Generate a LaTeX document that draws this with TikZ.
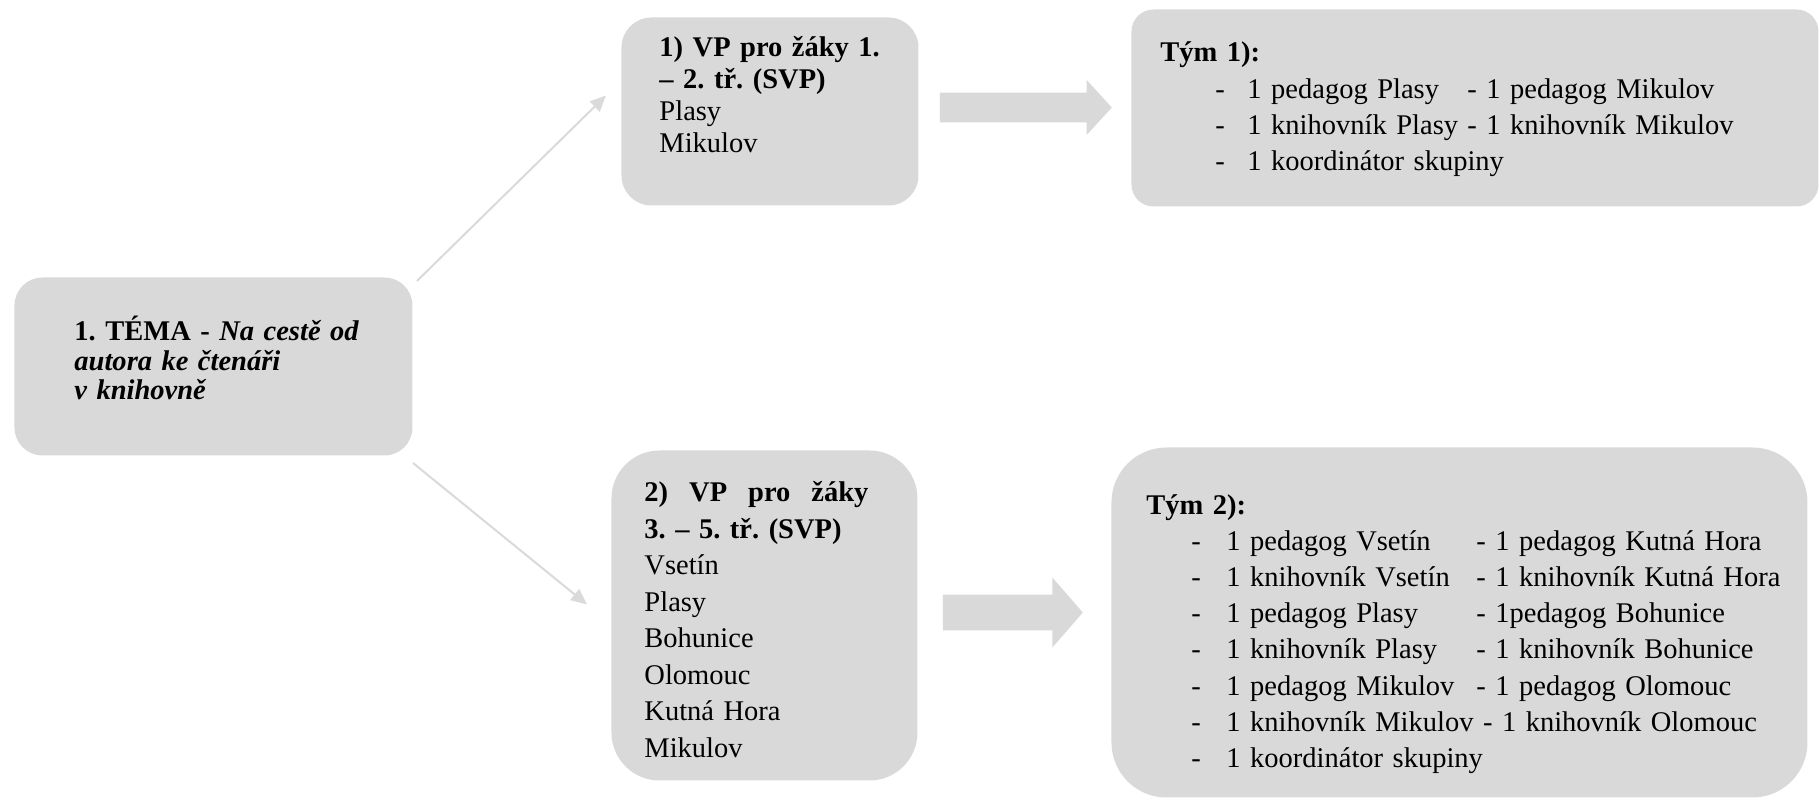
\documentclass[tikz,border=0pt]{standalone}
\usepackage{fontspec}
\setmainfont{Liberation Serif}
\usetikzlibrary{arrows.meta,shapes.arrows}

\definecolor{boxgray}{HTML}{D9D9D9}
\definecolor{linegray}{HTML}{DADADA}

% one pixel of the reference
\newlength\px
\setlength\px{0.421pt}

% team lists
\newlength\dashin
\newlength\dashw
\newlength\colw
\newcommand\tmrow[2]{\mbox{\hspace*{\dashin}\makebox[\dashw][l]{-}\makebox[\colw][l]{#1}#2}}

\tikzset{
  tbox/.style={fill=boxgray, anchor=north west, align=left, inner ysep=0pt,
    font=\frenchspacing\fontsize{12}{15.2}\selectfont},
  thinarrow/.style={draw=linegray, line width=0.85pt, -{Triangle[length=6.7pt,width=5.9pt]}},
  blockarrow/.style={single arrow, fill=boxgray, inner xsep=0pt},
}

\begin{document}
\begin{tikzpicture}[x=0.421pt, y=-0.421pt]
\useasboundingbox (0,0) rectangle (1819,800);

% Theme
\node[tbox, rounded corners=28\px, inner xsep=60\px, text width=278\px,
  text height=63\px, text depth=115\px, font=\frenchspacing\fontsize{12}{12.5}\selectfont]
  (theme) at (14,277) {\mbox{\textbf{1. TÉMA - \textit{Na cestě od}}}\\
  \textbf{\textit{autora ke čtenáři}}\\
  \textbf{\textit{v knihovně}}};

% Programmes
\node[tbox, rounded corners=30\px, inner xsep=38\px, text width=221\px,
  text height=39\px, text depth=149\px, font=\frenchspacing\fontsize{12}{13.5}\selectfont]
  (vp1) at (621,17) {\mbox{\textbf{1) VP pro žáky 1.}}\\
  \textbf{– 2. tř. (SVP)}\\
  Plasy\\
  Mikulov};

\node[tbox, rounded corners=48\px, inner xsep=33\px, text width=240\px,
  text height=51\px, text depth=279\px, font=\frenchspacing\fontsize{12}{15.4}\selectfont]
  (vp2) at (611,450) {\hbox to 224\px{\bfseries 2)\hfil VP\hfil pro\hfil žáky}\\
  \textbf{3. – 5. tř. (SVP)}\\
  Vsetín\\
  Plasy\\
  Bohunice\\
  Olomouc\\
  Kutná Hora\\
  Mikulov};

% Teams
\node[tbox, rounded corners=22\px, inner xsep=29\px, text width=629\px,
  text height=52.5\px, text depth=144.5\px]
  (team1) at (1131,9) {\setlength\dashin{55\px}\setlength\dashw{32\px}\setlength\colw{220\px}%
  \textbf{Tým 1):}\\
  \tmrow{1 pedagog Plasy}{- 1 pedagog Mikulov}\\
  \tmrow{1 knihovník Plasy}{- 1 knihovník Mikulov}\\
  \tmrow{1 koordinátor skupiny}{}};

\node[tbox, rounded corners=55\px, inner xsep=35\px, text width=626\px,
  text height=67\px, text depth=283\px]
  (team2) at (1111,447) {\setlength\dashin{45\px}\setlength\dashw{35\px}\setlength\colw{250\px}%
  \textbf{Tým 2):}\\
  \tmrow{1 pedagog Vsetín}{- 1 pedagog Kutná Hora}\\
  \tmrow{1 knihovník Vsetín}{- 1 knihovník Kutná Hora}\\
  \tmrow{1 pedagog Plasy}{- 1pedagog Bohunice}\\
  \tmrow{1 knihovník Plasy}{- 1 knihovník Bohunice}\\
  \tmrow{1 pedagog Mikulov}{- 1 pedagog Olomouc}\\
  \mbox{\hspace*{\dashin}\makebox[\dashw][l]{-}1 knihovník Mikulov - 1 knihovník Olomouc}\\
  \tmrow{1 koordinátor skupiny}{}};

% Block arrows
\node[blockarrow, inner ysep=14.5\px, minimum height=172\px,
  single arrow head extend=12.5\px, single arrow tip angle=95] (arr1) at (1019,107.5) {};
\node[blockarrow, inner ysep=17.5\px, minimum height=140\px,
  single arrow head extend=17\px, single arrow tip angle=98] (arr2) at (1005,612.5) {};

% Thin arrows
\draw[thinarrow] ([shift={(4,4)}]theme.north east) -- ([shift={(-15,-16)}]vp1.west);
\draw[thinarrow] ([shift={(0,7)}]theme.south east) -- ([shift={(-24,-11)}]vp2.west);
\end{tikzpicture}
\end{document}
